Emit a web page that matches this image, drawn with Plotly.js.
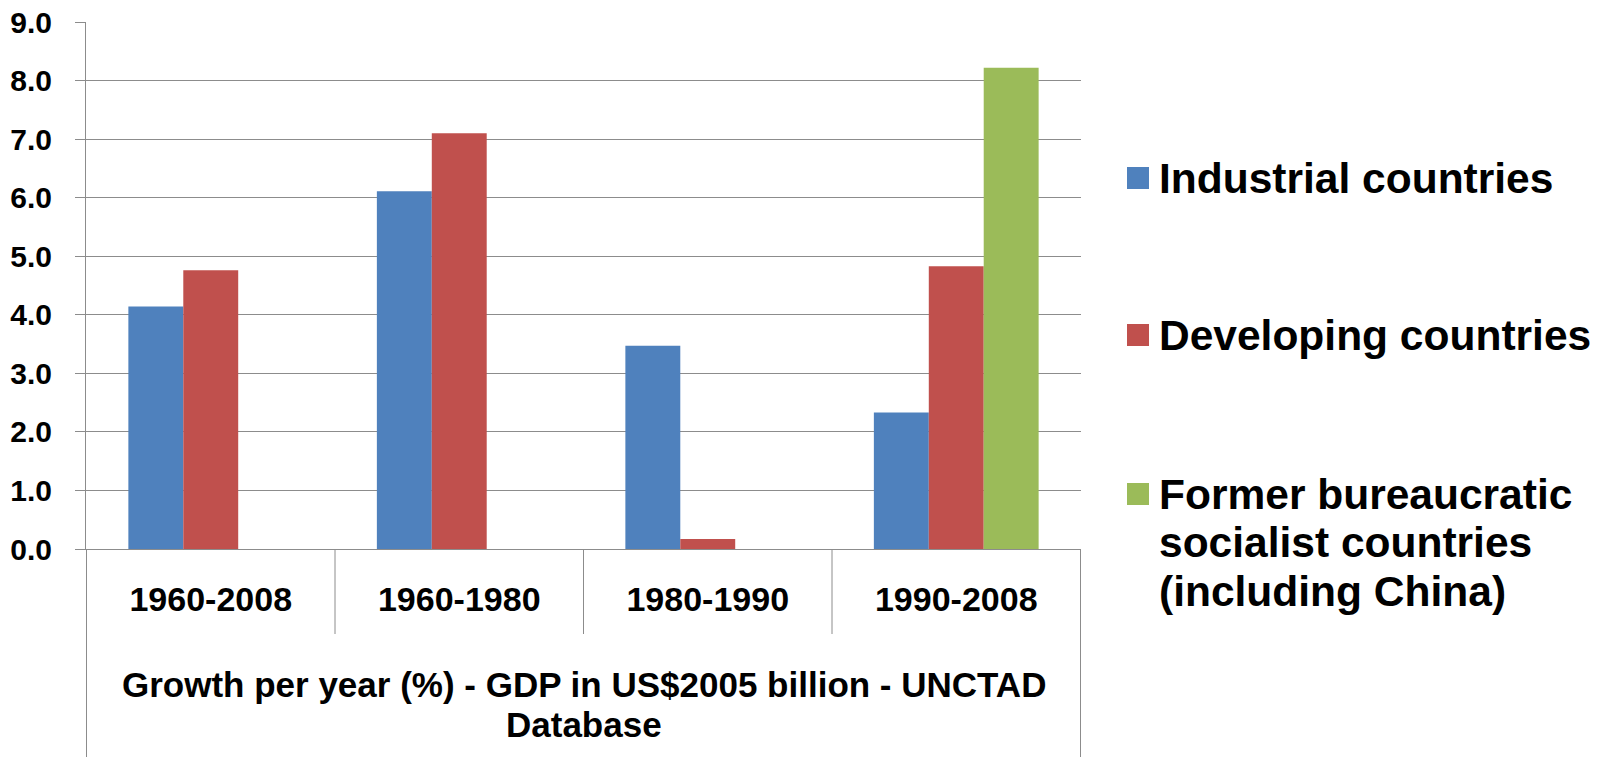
<!DOCTYPE html>
<html>
<head>
<meta charset="utf-8">
<script src="https://cdn.plot.ly/plotly-3.0.1.min.js"></script>
<style>
  html, body { margin: 0; padding: 0; background: #ffffff; }
  #chart { width: 1604px; height: 757px; }
</style>
</head>
<body>
<div id="chart"></div>
<script>
// ---------- data ----------
const categories = ['1960-2008', '1960-1980', '1980-1990', '1990-2008'];
const industrial = [4.14, 6.11, 3.47, 2.33];
const developing = [4.76, 7.10, 0.17, 4.83];
const formerSocialist = [null, null, null, 8.22];
const seriesNames = ['Industrial countries', 'Developing countries', 'Former bureaucratic socialist countries (including China)'];
const legendLines = [
  ['Industrial countries'],
  ['Developing countries'],
  ['Former bureaucratic', 'socialist countries', '(including China)']
];
const yTickVals = [0, 1, 2, 3, 4, 5, 6, 7, 8, 9];
const axisTitleLines = ['Growth per year (%) - GDP in US$2005 billion - UNCTAD', 'Database'];

// ---------- styling ----------
const colors = ['#4F81BD', '#C0504D', '#9BBB59'];
const FONT = '"Liberation Sans", Arial, Helvetica, sans-serif';
const GRID = '#8c8c8c';
const W = 1604, H = 757;
const M = { l: 86, r: 523, t: 22, b: 208 };
const PW = W - M.l - M.r, PH = H - M.t - M.b;
const px2x = X => (X - M.l) / PW;
const px2y = Y => (H - M.b - Y) / PH;

const seriesValues = [industrial, developing, formerSocialist];
const traces = seriesValues.map((vals, i) => ({
  type: 'bar',
  x: categories,
  y: vals,
  name: seriesNames[i],
  marker: { color: colors[i], line: { width: 0 } },
  showlegend: false,
  hoverinfo: 'x+y+name'
}));

const shapes = [];
// category dividers below the axis
for (let i = 0; i < categories.length - 1; i++) {
  shapes.push({ type: 'line', xref: 'x', yref: 'paper', x0: i + 0.5, x1: i + 0.5,
    y0: 0, y1: px2y(634), line: { color: GRID, width: 1 } });
}
// outer vertical lines of the axis-title box
[-0.5, categories.length - 0.5].forEach(v => {
  shapes.push({ type: 'line', xref: 'x', yref: 'paper', x0: v, x1: v,
    y0: 0, y1: px2y(H), line: { color: GRID, width: 1 } });
});

const annotations = [];
// axis title (two lines)
const titleCenters = [684, 724];
axisTitleLines.forEach((t, i) => {
  annotations.push({ xref: 'paper', yref: 'paper', x: 0.5, y: px2y(titleCenters[i]),
    xanchor: 'center', yanchor: 'middle', showarrow: false, text: t,
    font: { family: FONT, size: 35, color: '#000', weight: 'bold' } });
});

// manual legend
const legendTop = [178, 335, 494];
const legendLineGap = 48.5;
legendLines.forEach((lines, i) => {
  const cy = legendTop[i];
  shapes.push({ type: 'rect', xref: 'paper', yref: 'paper',
    x0: px2x(1127), x1: px2x(1149), y0: px2y(cy - 11), y1: px2y(cy + 11),
    fillcolor: colors[i], line: { width: 0 } });
  lines.forEach((t, j) => {
    annotations.push({ xref: 'paper', yref: 'paper', x: px2x(1157), y: px2y(cy + j * legendLineGap),
      xanchor: 'left', yanchor: 'middle', showarrow: false, text: t, align: 'left',
      font: { family: FONT, size: 42.5, color: '#000', weight: 'bold' } });
  });
});

const layout = {
  width: W, height: H,
  margin: M,
  paper_bgcolor: '#ffffff',
  plot_bgcolor: '#ffffff',
  barmode: 'group',
  bargap: 0.337,
  bargroupgap: 0,
  showlegend: false,
  font: { family: FONT, color: '#000' },
  xaxis: {
    type: 'category',
    showgrid: false,
    zeroline: false,
    showline: true,
    linecolor: GRID,
    linewidth: 1,
    ticks: '',
    ticklabelstandoff: 20,
    tickfont: { family: FONT, size: 34, color: '#000', weight: 'bold' },
    fixedrange: true
  },
  yaxis: {
    range: [0, 9],
    tickvals: yTickVals,
    ticktext: yTickVals.map(v => v.toFixed(1)),
    showgrid: true,
    gridcolor: GRID,
    gridwidth: 1,
    zeroline: false,
    showline: true,
    linecolor: GRID,
    linewidth: 1,
    ticks: 'outside',
    ticklen: 10,
    tickcolor: GRID,
    tickwidth: 1,
    ticklabelstandoff: 17,
    tickfont: { family: FONT, size: 30, color: '#000', weight: 'bold' },
    fixedrange: true
  },
  shapes: shapes,
  annotations: annotations
};

Plotly.newPlot('chart', traces, layout, { displayModeBar: false, staticPlot: true });
</script>
</body>
</html>
